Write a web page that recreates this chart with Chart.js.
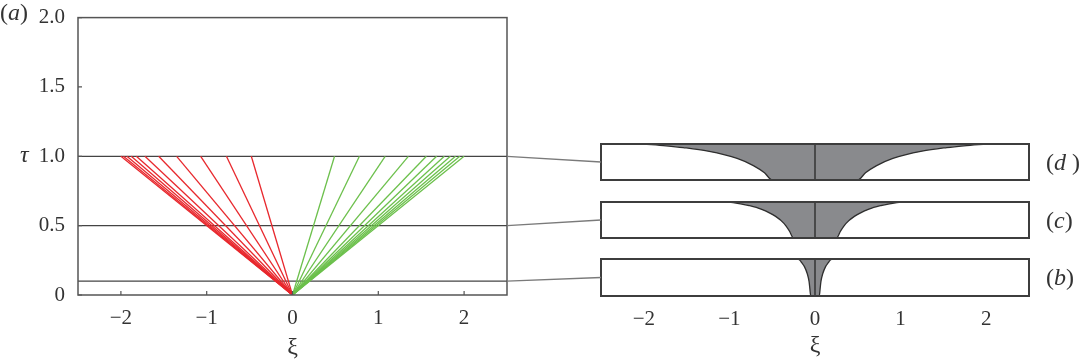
<!DOCTYPE html>
<html><head><meta charset="utf-8">
<script src="https://cdn.jsdelivr.net/npm/chart.js@4/dist/chart.umd.min.js"></script>
<style>
html,body{margin:0;padding:0;background:#fff;width:1087px;height:364px;overflow:hidden;position:relative;}
canvas{position:absolute;left:0;top:0;}
.lbl{position:absolute;font-family:"Liberation Serif","Times New Roman",serif;color:#333;white-space:nowrap;font-size:24px;line-height:26px;}
</style></head><body>
<canvas id="cd" width="1087" height="364"></canvas>
<canvas id="cc" width="1087" height="364"></canvas>
<canvas id="cbx" width="1087" height="364"></canvas>
<canvas id="ca" width="1087" height="364"></canvas>
<div class="lbl" style="left:0px;top:-1px;">(<i>a</i>)</div>
<div class="lbl" style="left:20px;top:141px;"><i>τ</i></div>
<div class="lbl" style="left:1046px;top:149px;">(<i>d</i> )</div>
<div class="lbl" style="left:1046px;top:207px;">(<i>c</i>)</div>
<div class="lbl" style="left:1046px;top:264px;">(<i>b</i>)</div>
<script>
// ---- data ----
const xTicks = [-2, -1, 0, 1, 2];
const xTickLabels = ['\u22122', '\u22121', '0', '1', '2'];
const yTicks = [0, 0.5, 1.0, 1.5, 2.0];
const yTickLabels = ['0', '0.5', '1.0', '1.5', '2.0'];
const tauLevels = [1.0, 0.5, 0.1];          // levels shown in panels (d), (c), (b)
const redEnds = [-2.0, -1.97, -1.93, -1.88, -1.82, -1.72, -1.56, -1.35, -1.07, -0.77, -0.48];
const greenEnds = [0.49, 0.78, 1.08, 1.35, 1.56, 1.68, 1.77, 1.84, 1.9, 1.95, 2.0];
const etaLevels = [1, 0.95, 0.9, 0.8, 0.6, 0.4, 0.2, 0];
const halfWidthD = [2.0, 1.74, 1.54, 1.25, 0.91, 0.72, 0.59, 0.5];
const halfWidthC = [1.0, 0.87, 0.77, 0.63, 0.46, 0.36, 0.30, 0.25];
const halfWidthB = [0.2, 0.17, 0.155, 0.125, 0.09, 0.07, 0.06, 0.05];

const SERIF = '"Liberation Serif","Times New Roman",serif';
const INK = '#333';

function frame(color, width) {
  return {
    id: 'frame',
    afterDatasetsDraw(chart) {
      const a = chart.chartArea, ctx = chart.ctx;
      ctx.save();
      ctx.strokeStyle = color; ctx.lineWidth = width;
      ctx.strokeRect(a.left, a.top, a.right - a.left, a.bottom - a.top);
      ctx.restore();
    }
  };
}

function shapeData(hw) {
  const left = etaLevels.map((e, i) => ({x: -hw[i], y: e}));
  const right = etaLevels.map((e, i) => ({x: hw[i], y: e})).reverse();
  return left.concat(right);
}

function makePanel(id, hw, box, showAxis) {
  const xScale = {
    type: 'linear', min: -2.5, max: 2.5, display: showAxis,
    grid: {display: false}, border: {display: false},
    afterBuildTicks: s => { s.ticks = xTicks.map(v => ({value: v})); },
    ticks: {font: {family: SERIF, size: 21}, color: INK, padding: 3,
            callback: (v) => xTickLabels[xTicks.indexOf(v)]},
    title: {display: showAxis, text: 'ξ', font: {family: SERIF, size: 24}, color: INK, padding: {top: 0, bottom: 4}},
    afterFit: s => { s.height = 364 - box.bottom; }
  };
  return new Chart(document.getElementById(id), {
    type: 'scatter',
    data: {datasets: [
      {data: [{x: 0, y: 0}, {x: 0, y: 1}], showLine: true, borderColor: '#2e2e2e', borderWidth: 1.4, pointRadius: 0, order: 0},
      {data: shapeData(hw), showLine: true, fill: 'end', backgroundColor: '#898a8d',
       borderColor: '#2e2e2e', borderWidth: 1.3, pointRadius: 0, cubicInterpolationMode: 'monotone', order: 1}
    ]},
    options: {
      responsive: false, animation: false, devicePixelRatio: 1,
      layout: {padding: {left: box.left, right: 1087 - box.right, top: box.top, bottom: 0}},
      plugins: {legend: {display: false}, tooltip: {enabled: false}},
      scales: {x: xScale, y: {type: 'linear', min: 0, max: 1, display: false}}
    },
    plugins: [frame('#3d3d3d', 2)]
  });
}

const panelD = makePanel('cd', halfWidthD, {left: 601, right: 1029, top: 144, bottom: 180}, false);
const panelC = makePanel('cc', halfWidthC, {left: 601, right: 1029, top: 202, bottom: 238}, false);
const panelB = makePanel('cbx', halfWidthB, {left: 601, right: 1029, top: 259, bottom: 296}, true);
const panels = [panelD, panelC, panelB];

const datasets = [];
redEnds.forEach(x => datasets.push({data: [{x: 0, y: 0}, {x: x, y: 1}], showLine: true,
  borderColor: '#e8282d', borderWidth: 1.3, pointRadius: 0}));
greenEnds.forEach(x => datasets.push({data: [{x: 0, y: 0}, {x: x, y: 1}], showLine: true,
  borderColor: '#6cc04c', borderWidth: 1.3, pointRadius: 0}));
tauLevels.forEach(t => datasets.push({data: [{x: -2.5, y: t}, {x: 2.5, y: t}], showLine: true,
  borderColor: '#444', borderWidth: 1.3, pointRadius: 0}));

const innerTicks = {
  id: 'innerTicks',
  afterDatasetsDraw(chart) {
    const a = chart.chartArea, ctx = chart.ctx, xs = chart.scales.x, ys = chart.scales.y;
    ctx.save(); ctx.strokeStyle = '#555'; ctx.lineWidth = 1.2; ctx.beginPath();
    xTicks.forEach(v => { const p = xs.getPixelForValue(v); ctx.moveTo(p, a.bottom); ctx.lineTo(p, a.bottom - 4); });
    yTicks.forEach(v => { const p = ys.getPixelForValue(v); ctx.moveTo(a.left, p); ctx.lineTo(a.left + 4, p); });
    ctx.stroke(); ctx.restore();
  }
};
const connectors = {
  id: 'connectors',
  afterDraw(chart) {
    const a = chart.chartArea, ctx = chart.ctx, ys = chart.scales.y;
    ctx.save(); ctx.strokeStyle = '#7a7a7a'; ctx.lineWidth = 1.3;
    tauLevels.forEach((t, i) => {
      const pa = panels[i].chartArea;
      ctx.beginPath();
      ctx.moveTo(a.right, ys.getPixelForValue(t));
      ctx.lineTo(pa.left, (pa.top + pa.bottom) / 2);
      ctx.stroke();
    });
    ctx.restore();
  }
};

new Chart(document.getElementById('ca'), {
  type: 'scatter',
  data: {datasets},
  options: {
    responsive: false, animation: false, devicePixelRatio: 1,
    layout: {padding: {left: 0, right: 580, top: 15, bottom: 0}},
    plugins: {legend: {display: false}, tooltip: {enabled: false}},
    scales: {
      x: {type: 'linear', min: -2.5, max: 2.5,
          grid: {display: false}, border: {display: false},
          afterBuildTicks: s => { s.ticks = xTicks.map(v => ({value: v})); },
          ticks: {font: {family: SERIF, size: 21}, color: INK, padding: 3,
                  callback: (v) => xTickLabels[xTicks.indexOf(v)]},
          title: {display: true, text: 'ξ', font: {family: SERIF, size: 24}, color: INK, padding: {top: 0, bottom: 2}},
          afterFit: s => { s.height = 364 - 295; }},
      y: {type: 'linear', min: 0, max: 2,
          grid: {display: false}, border: {display: false},
          afterBuildTicks: s => { s.ticks = yTicks.map(v => ({value: v})); },
          ticks: {font: {family: SERIF, size: 21}, color: INK, padding: 5,
                  callback: (v) => yTickLabels[yTicks.indexOf(v)]},
          afterFit: s => { s.width = 78; }}
    }
  },
  plugins: [frame('#555', 1.5), innerTicks, connectors]
});
</script>
</body></html>
